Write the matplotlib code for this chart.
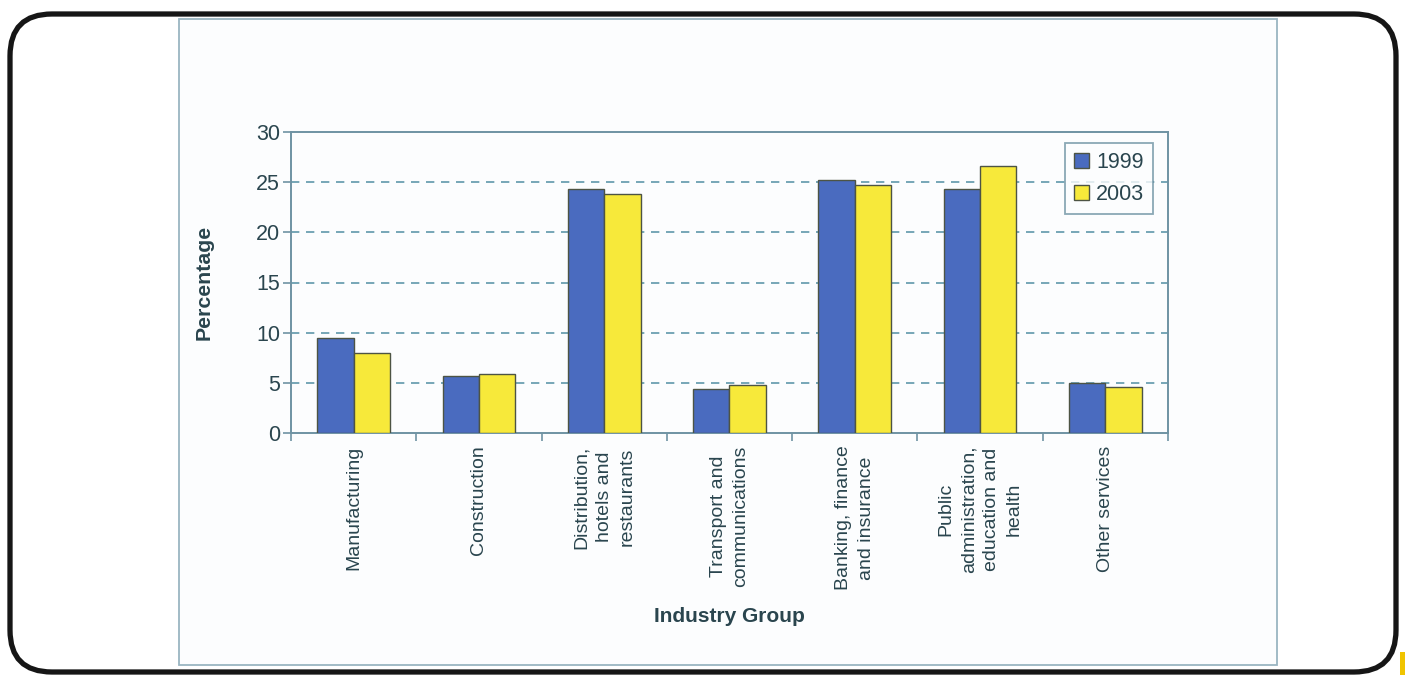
import numpy as np
import matplotlib.pyplot as plt
from matplotlib.patches import FancyBboxPatch, Rectangle

categories = ['Manufacturing', 'Construction', 'Distribution,\nhotels and\nrestaurants',
              'Transport and\ncommunications', 'Banking, finance\nand insurance',
              'Public\nadministration,\neducation and\nhealth', 'Other services']
values_1999 = [9.5, 5.7, 24.3, 4.4, 25.2, 24.3, 4.95]
values_2003 = [8.0, 5.9, 23.8, 4.8, 24.7, 26.6, 4.55]
series_names = ['1999', '2003']
y_ticks = [0, 5, 10, 15, 20, 25, 30]

text_col = '#2a454e'
axis_col = '#6f93a3'
grid_col = '#5f98aa'
blue = '#4a6bbf'
yellow = '#f7e93a'
edge = '#4d5444'

plt.rcParams['font.family'] = ['Liberation Sans', 'DejaVu Sans']

fig = plt.figure(figsize=(14.05, 6.75), dpi=100)

# page background with rounded frame and chart area box
bg = fig.add_axes([0, 0, 1, 1])
bg.set_xlim(0, 1405)
bg.set_ylim(675, 0)
bg.axis('off')
bg.add_patch(FancyBboxPatch((10, 14), 1386, 658, boxstyle='round,pad=0,rounding_size=42',
                            lw=3.8, ec='#161616', fc='white'))
bg.add_patch(Rectangle((179, 19), 1098, 646, lw=1.3, ec='#9ab5c2', fc='#fcfdfe'))
bg.add_patch(Rectangle((1400, 652), 6, 25, lw=0, fc='#f0c400'))

ax = fig.add_axes([291 / 1405, 1 - 433 / 675, 877 / 1405, 301 / 675])
ax.set_facecolor('none')

x = np.arange(len(categories))
w = 0.29
ax.bar(x - w / 2, values_1999, w, color=blue, edgecolor=edge, lw=1, label=series_names[0], zorder=3)
ax.bar(x + w / 2, values_2003, w, color=yellow, edgecolor=edge, lw=1, label=series_names[1], zorder=3)

ax.set_xlim(-0.5, len(categories) - 0.5)
ax.set_ylim(0, 30)
ax.set_yticks(y_ticks)
ax.set_yticklabels([str(v) for v in y_ticks], fontsize=15.5, color=text_col)
ax.tick_params(axis='y', length=6, width=1.2, color=axis_col, pad=2)

# tick marks between groups, labels at group centres
ax.set_xticks(np.arange(len(categories) + 1) - 0.5)
ax.set_xticklabels([])
ax.tick_params(axis='x', which='major', length=6, width=1.2, color=axis_col, direction='out')
ax.set_xticks(x, minor=True)
ax.set_xticklabels(categories, minor=True, rotation=90, fontsize=14, color=text_col,
                   ha='center', va='top', multialignment='center', linespacing=1.45)
ax.tick_params(axis='x', which='minor', length=0, pad=9)

for v in y_ticks[1:-1]:
    ax.axhline(v, color=grid_col, lw=1.2, ls=(0, (5, 4)), zorder=1)

for s in ax.spines.values():
    s.set_color(axis_col)
    s.set_linewidth(1.4)

ax.set_ylabel('Percentage', fontsize=15.3, fontweight='bold', color=text_col)
ax.yaxis.set_label_coords(-0.088, 0.5)
ax.set_xlabel('Industry Group', fontsize=15, fontweight='bold', color=text_col)
ax.xaxis.set_label_coords(0.5, -0.608)
ax.xaxis.label.set_va('center')

leg = ax.legend(loc='upper right', bbox_to_anchor=(0.983, 0.963), fontsize=15.5, frameon=True,
                fancybox=False, handlelength=0.7, handleheight=0.7, handletextpad=0.3,
                labelspacing=0.5, borderpad=0.42, borderaxespad=0)
leg.get_frame().set_edgecolor(axis_col)
leg.get_frame().set_linewidth(1.3)
leg.get_frame().set_facecolor('#fcfdfe')
for t in leg.get_texts():
    t.set_color(text_col)

fig.savefig('out.png', dpi=100)
